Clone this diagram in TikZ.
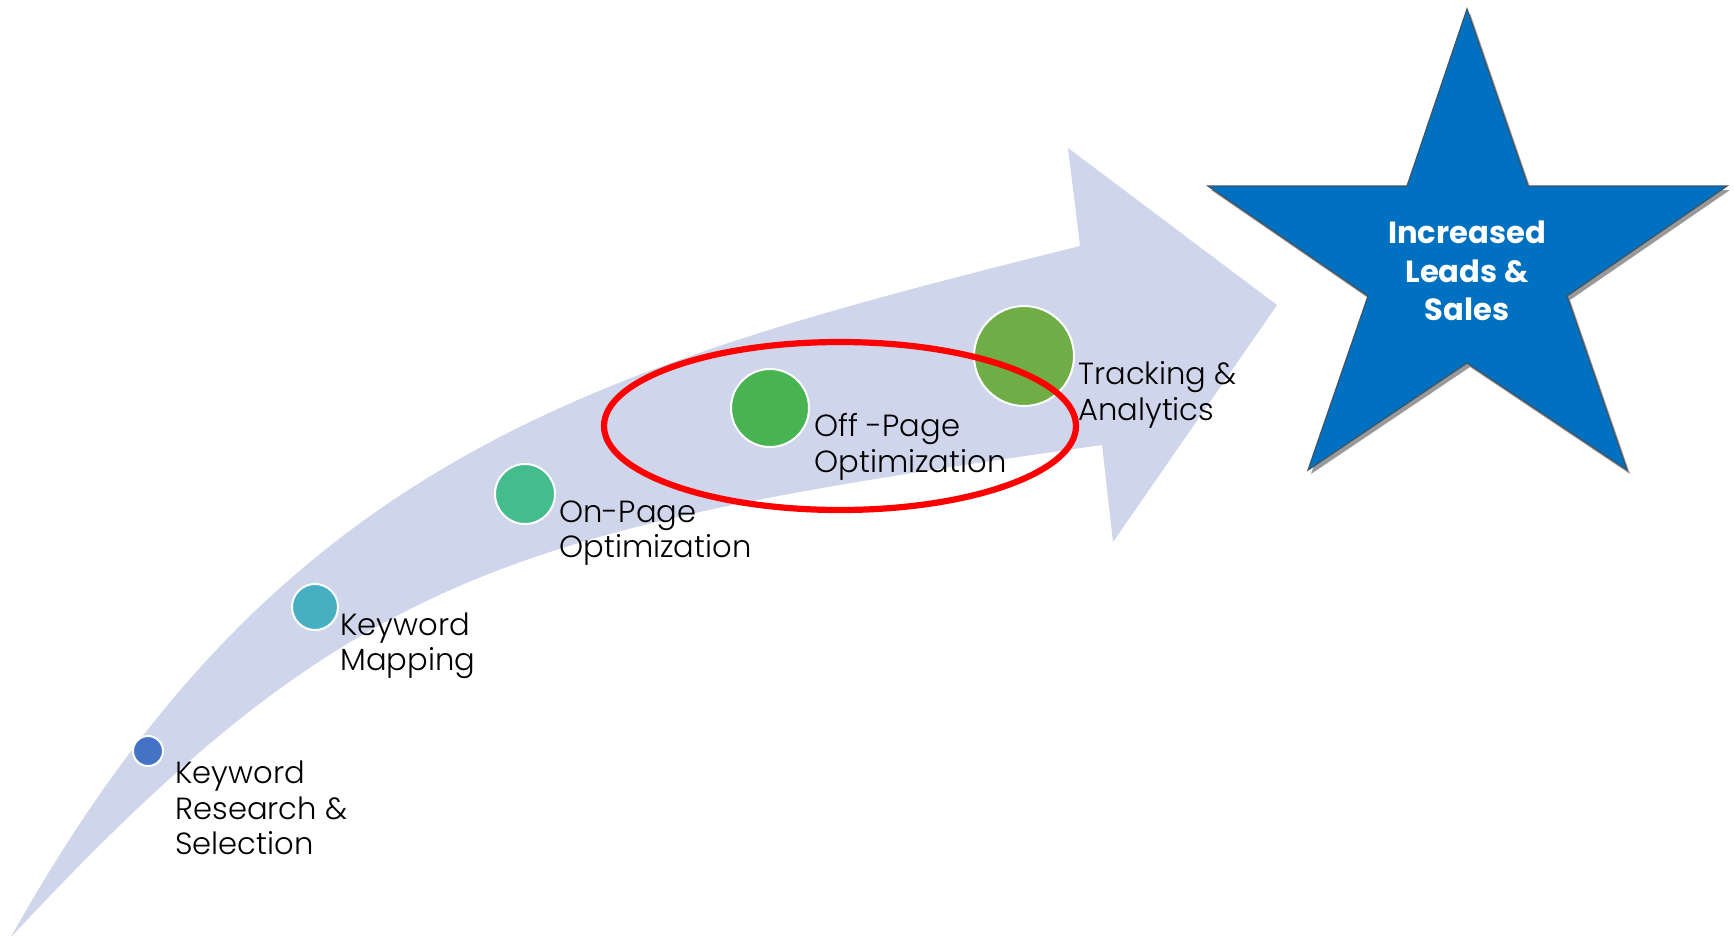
\documentclass[tikz,border=0pt]{standalone}
\usepackage{fontspec}
\setmainfont{Poppins}
\newfontfamily\lightfont{Poppins Light}
\usetikzlibrary{calc}

\definecolor{bandfill}{HTML}{CFD5EA}
\definecolor{kwres}{HTML}{4472C4}
\definecolor{kwmap}{HTML}{46AFC2}
\definecolor{onpage}{HTML}{45BC8E}
\definecolor{offpage}{HTML}{48B351}
\definecolor{tracking}{HTML}{70AD47}
\definecolor{starblue}{HTML}{0070C0}
\definecolor{staredge}{HTML}{3E5468}

\begin{document}
\begin{tikzpicture}[x=0.5pt,y=-0.5pt,
    stage/.style={circle,draw=white,line width=1pt,inner sep=0pt},
    steplabel/.style={anchor=west,align=left,inner sep=0pt,
        font=\lightfont\fontsize{15.3}{17.75}\selectfont}]
        \useasboundingbox (0,0) rectangle (1734,938);

        % curved arrow
        \fill[bandfill] (11,937) .. controls (280,455) and (595,367) .. (1080,246)
            -- (1068,148) -- (1277,305) -- (1113,542) -- (1102,445)
            .. controls (508,529) and (353,570) .. (11,937) -- cycle;

        % stages
        \node[stage,fill=kwres,minimum size=15pt] (s1) at (148,751) {};
        \node[stage,fill=kwmap,minimum size=23pt] (s2) at (315,607) {};
        \node[stage,fill=onpage,minimum size=30pt] (s3) at (525,494) {};
        \node[stage,fill=offpage,minimum size=39pt] (s4) at (770,408) {};
        \node[stage,fill=tracking,minimum size=50pt] (s5) at (1024,356) {};

        % labels
        \node[steplabel] (l1) at (175,808) {Keyword\\Research \&\\Selection};
        \node[steplabel] (l2) at (340,646) {Keyword\\Mapping};
        \node[steplabel] (l3) at (559,533) {On-Page\\Optimization};
        \node[steplabel] (l4) at (814,447) {Off -Page\\Optimization};
        \node[steplabel] (l5) at (1078,395) {Tracking \&\\Analytics};

        % highlight
        \draw[red,line width=3.1pt] (840,426) ellipse [x radius=236,y radius=84];

        % star
        \fill[black!40,shift={(3,4)}] (1467,9) -- (1528,186) -- (1727,186) -- (1567,296)
            -- (1627,470) -- (1467,363) -- (1308,470) -- (1368,296)
            -- (1208,186) -- (1407,186) -- cycle;
        \filldraw[fill=starblue,draw=staredge,line width=0.6pt]
            (1467,9) -- (1528,186) -- (1727,186) -- (1567,296)
            -- (1627,470) -- (1467,363) -- (1308,470) -- (1368,296)
            -- (1208,186) -- (1407,186) -- cycle;
        \node[align=center,text=white,inner sep=0pt,
            font=\fontsize{15.3}{19.25}\selectfont\bfseries] (goal) at (1467,271)
            {Increased\\Leads \&\\Sales};
    \end{tikzpicture}
\end{document}
